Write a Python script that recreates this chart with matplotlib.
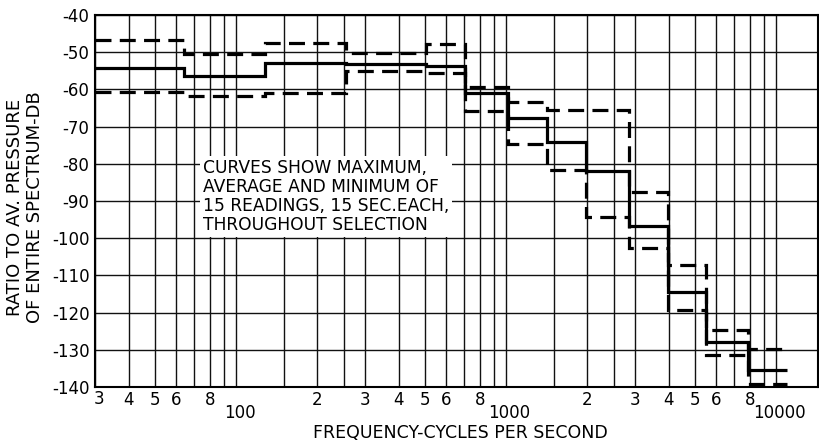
import matplotlib
matplotlib.use("Agg")
import matplotlib.pyplot as plt
from matplotlib.transforms import blended_transform_factory

# ── Datos ─────────────────────────────────────────────────────────────
band_edges = [30, 64, 128, 255, 505, 706, 1017, 1416, 1973, 2844, 3993, 5520, 7880, 10950]
max_db = [-46.8, -50.5, -47.6, -50.2, -47.7, -59.3, -63.3, -65.5, -65.5, -87.5, -107.2, -124.7, -129.7]
avg_db = [-54.3, -56.3, -53.0, -53.3, -53.8, -61.1, -67.8, -74.2, -82.0, -96.8, -114.5, -127.9, -135.3]
min_db = [-60.6, -61.7, -61.0, -55.0, -55.7, -65.7, -74.7, -81.7, -94.3, -102.6, -119.4, -131.3, -139.2]

grid_freqs = [30, 40, 50, 60, 70, 80, 90, 100, 150, 200, 250, 300, 400, 500, 600,
              700, 800, 900, 1000, 1500, 2000, 2500, 3000, 4000, 5000, 6000, 7000,
              8000, 9000, 10000]
digit_pos = [40, 50, 60, 80, 200, 300, 400, 500, 600, 800,
             2000, 3000, 4000, 5000, 6000, 8000]
digit_labels = ["4", "5", "6", "8", "2", "3", "4", "5", "6", "8",
                "2", "3", "4", "5", "6", "8"]
decade_pos = [100, 1000, 10000]
decade_labels = ["100", "1000", "10000"]
y_ticks = [-40, -50, -60, -70, -80, -90, -100, -110, -120, -130, -140]

note = ("CURVES SHOW MAXIMUM,\nAVERAGE AND MINIMUM OF\n"
        "15 READINGS, 15 SEC.EACH,\nTHROUGHOUT SELECTION")

# ── Figura ────────────────────────────────────────────────────────────
plt.rcParams["font.family"] = ["DejaVu Sans"]
fig = plt.figure(figsize=(8.2, 4.44), dpi=100)
ax = fig.add_axes([95 / 820, 1 - 387 / 444, (818 - 95) / 820, (387 - 15) / 444])

ax.set_xscale("log")
ax.set_xlim(30, 14300)
ax.set_ylim(-140, -40)

ax.set_xticks(grid_freqs)
ax.set_xticks([], minor=True)
ax.set_xticklabels([])
ax.set_yticks(y_ticks)
ax.set_yticklabels([str(v) for v in y_ticks], fontsize=12)
ax.tick_params(length=0, pad=4)
ax.grid(True, color="#111111", linewidth=1.0)
ax.set_axisbelow(True)
for side in ("left", "bottom", "top", "right"):
    ax.spines[side].set_linewidth(1.5)

# curvas
ax.stairs(avg_db, band_edges, baseline=None, color="black", linewidth=2.3, zorder=5)
for vals in (max_db, min_db):
    ax.stairs(vals, band_edges, baseline=None, color="black", linewidth=2.3,
              linestyle=(0, (5, 2.6)), zorder=5)

# etiquetas del eje x
trans = blended_transform_factory(ax.transData, ax.transAxes)
ax.text(31, -0.008, "3", transform=trans, ha="center", va="top", fontsize=12)
for x, lab in zip(digit_pos, digit_labels):
    ax.text(x, -0.012, lab, transform=trans, ha="center", va="top", fontsize=12)
for x, lab in zip(decade_pos, decade_labels):
    ax.text(x * 1.03, -0.047, lab, transform=trans, ha="center", va="top", fontsize=12)

ax.text(0.505, -0.123, "FREQUENCY-CYCLES PER SECOND", transform=ax.transAxes,
        ha="center", va="center", fontsize=12.5)
fig.text(15 / 820, 1 - 207 / 444, "RATIO TO AV. PRESSURE", rotation=90,
         ha="center", va="center", fontsize=13)
fig.text(35 / 820, 1 - 207 / 444, "OF ENTIRE SPECTRUM-DB", rotation=90,
         ha="center", va="center", fontsize=13)

ax.text(75.5, -78.6, note, ha="left", va="top", fontsize=12.3, linespacing=1.08,
        zorder=4, bbox=dict(facecolor="white", edgecolor="none", pad=2))

fig.savefig("out.png", dpi=100)
